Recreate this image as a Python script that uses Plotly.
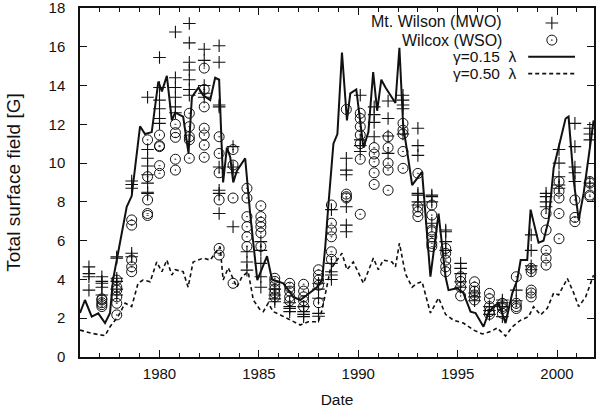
import plotly.graph_objects as go

# Model curves: total surface field for two gamma values
model_years = [1976.0, 1976.25, 1976.59, 1976.92, 1977.26, 1977.51, 1977.66, 1978.1, 1978.35, 1978.6,
               1979.02, 1979.27, 1979.61, 1979.94, 1980.12, 1980.37, 1980.62, 1980.79, 1981.19, 1981.46,
               1981.63, 1981.96, 1982.2, 1982.55, 1982.8, 1983.0, 1983.2, 1983.39, 1983.56, 1983.71,
               1983.89, 1984.31, 1984.56, 1984.92, 1985.41, 1985.66, 1986.23, 1986.73, 1987.08, 1987.42,
               1987.92, 1988.18, 1988.34, 1988.49, 1988.75, 1988.95, 1989.18, 1989.43, 1989.6, 1989.9,
               1990.26, 1990.51, 1990.75, 1990.95, 1991.16, 1991.37, 1991.62, 1991.87, 1992.07, 1992.26,
               1992.46, 1992.71, 1993.03, 1993.21, 1993.63, 1994.04, 1994.39, 1994.54, 1994.98, 1995.29,
               1995.65, 1995.9, 1996.3, 1996.55, 1996.81, 1997.06, 1997.41, 1997.75, 1998.0, 1998.17,
               1998.5, 1998.67, 1999.07, 1999.32, 1999.58, 1999.83, 2000.43, 2000.58, 2000.84, 2001.09,
               2001.34, 2001.59, 2001.84]
gamma_015 = [2.27, 2.94, 2.08, 2.25, 1.75, 2.27, 3.97, 6.4, 7.75, 8.3,
             11.9, 11.5, 11.6, 14.2, 13.7, 14.5, 12.2, 12.6, 12.4, 10.5,
             13.4, 13.9, 13.5, 13.25, 14.4, 14.3, 9.0, 10.8, 10.3, 9.0,
             9.6, 10.25, 7.4, 3.97, 5.2, 4.0, 3.8, 3.1, 2.94, 3.2,
             3.6, 3.97, 5.7, 7.75, 11.0, 11.5, 15.7, 12.2, 13.6, 13.8,
             10.8, 11.6, 14.7, 12.7, 14.3, 13.9, 13.5, 13.1, 15.95, 11.9,
             10.6, 8.87, 9.3, 9.55, 4.14, 7.4, 4.14, 3.45, 3.55, 3.3,
             2.34, 2.27, 1.56, 2.27, 2.6, 2.78, 1.75, 3.3, 3.97, 5.0,
             5.0, 7.6, 5.9, 6.0, 7.07, 9.75, 12.3, 12.4, 9.1, 7.07,
             8.45, 10.2, 12.2]

dash_years = [1976.0, 1976.59, 1977.26, 1977.51, 1977.91, 1978.27, 1978.6, 1978.92, 1979.17, 1979.53,
              1979.86, 1980.12, 1980.37, 1980.62, 1980.79, 1981.19, 1981.44, 1981.69, 1982.2, 1982.55,
              1982.8, 1983.05, 1983.2, 1983.46, 1983.89, 1984.15, 1984.46, 1984.72, 1985.07, 1985.22,
              1985.47, 1985.72, 1986.08, 1986.58, 1987.08, 1987.49, 1987.99, 1988.18, 1988.59, 1989.18,
              1989.43, 1989.75, 1990.26, 1990.76, 1991.01, 1991.26, 1991.7, 1991.87, 1992.07, 1992.37,
              1992.71, 1992.96, 1993.21, 1993.63, 1994.04, 1994.39, 1994.79, 1995.29, 1995.8, 1996.24,
              1996.65, 1996.99, 1997.41, 1997.75, 1998.17, 1998.57, 1998.82, 1999.17, 1999.51, 1999.83,
              2000.08, 2000.52, 2000.84, 2001.09, 2001.44, 2001.84]
gamma_050 = [1.39, 1.22, 1.1, 1.56, 2.08, 2.78, 2.6, 3.8, 3.97, 3.88,
             4.9, 4.4, 5.0, 4.23, 4.5, 4.4, 3.6, 4.9, 5.1, 5.0,
             5.35, 5.7, 3.97, 4.6, 3.6, 4.14, 4.4, 2.94, 2.42, 2.34,
             2.78, 2.34, 2.17, 1.9, 1.65, 1.82, 1.82, 2.42, 4.5, 5.35,
             4.5, 4.9, 3.8, 5.1, 4.5, 5.0, 4.9, 4.65, 5.87, 4.3,
             3.6, 3.8, 3.88, 2.27, 3.05, 2.2, 1.9, 1.75, 1.39, 1.19,
             1.31, 1.5, 1.08, 1.56, 1.9, 2.08, 2.6, 2.17, 2.51, 3.3,
             3.2, 4.05, 3.3, 2.6, 3.1, 4.23]

# Observation epochs and the field values measured at each
obs_epochs = [1976.45, 1977.1, 1977.85, 1978.6, 1979.4, 1980.0, 1980.8, 1981.5, 1982.25, 1983.0,
              1983.7, 1984.4, 1985.1, 1985.8, 1986.55, 1987.25, 1988.0, 1988.65, 1989.4, 1990.1,
              1990.8, 1991.5, 1992.25, 1993.0, 1993.7, 1994.4, 1995.15, 1995.85, 1996.6, 1997.25,
              1997.95, 1998.7, 1999.45, 2000.1, 2000.9, 2001.65]
mwo_values = [
    [4.65, 4.14, 3.45, 4.3],
    [4.14, 3.8, 3.6, 3.2, 3.9],
    [5.17, 5.1, 4.06, 3.9, 3.2, 3.5],
    [9.08, 8.7, 8.9, 5.17, 5.35],
    [13.4, 10.7, 10.25, 9.85, 9.4, 8.97, 8.5, 8.44],
    [15.45, 13.9, 13.25, 12.8, 12.3, 12.05],
    [16.76, 14.4, 13.9, 13.4, 12.9, 12.6],
    [17.2, 16.2, 15.2, 14.8, 14.3, 13.8, 13.5],
    [15.87, 15.3, 14.0, 13.4, 13.6],
    [16.05, 15.2, 13.0, 12.9, 9.8, 8.6, 8.44, 7.4],
    [10.85, 9.8, 9.5, 6.72],
    [5.43, 4.9, 4.48],
    [5.95, 5.5, 4.83, 4.14, 3.6],
    [3.2, 2.85, 3.5, 3.0],
    [2.6, 2.34, 2.5, 2.8],
    [2.34, 2.08, 2.2, 2.6],
    [3.8, 3.03, 2.25, 2.1, 3.5],
    [7.6, 4.83, 4.23, 4.4, 4.0],
    [10.25, 9.64, 9.4, 7.75, 6.8, 6.46],
    [13.5, 11.2, 10.6, 10.9],
    [12.9, 12.5, 12.1, 11.36],
    [13.2, 12.3, 10.5, 11.4],
    [13.5, 13.25, 12.8, 11.5, 13.0],
    [11.8, 10.9, 10.4, 8.44, 8.35, 7.84, 8.0],
    [8.27, 8.35, 8.0, 6.9],
    [6.55, 6.46, 5.95, 5.5],
    [4.83, 4.57, 4.3, 3.88, 3.6],
    [3.1, 2.9, 3.3],
    [2.6, 2.4, 2.2],
    [2.94, 2.8, 2.6, 2.08],
    [3.45, 2.9],
    [6.3, 5.5, 4.5, 4.7],
    [8.44, 8.27, 7.75, 8.0],
    [10.7, 10.0, 9.3, 8.87, 8.7],
    [12.05, 10.85, 9.8, 9.5, 9.05],
    [11.8, 11.2, 8.97, 11.5],
]
wso_values = [
    [],
    [2.94, 2.6, 2.8, 3.0, 2.7],
    [3.97, 3.45, 3.1, 2.77, 2.17, 3.6],
    [7.07, 6.8, 5.0, 4.65, 4.4],
    [11.2, 9.3, 8.1, 7.4, 7.3],
    [11.45, 10.85, 10.9, 9.87, 9.47],
    [12.0, 11.57, 11.33, 10.2, 9.64],
    [12.57, 11.88, 11.36, 11.2, 10.25],
    [14.9, 13.8, 12.9, 11.8, 11.45, 10.93, 10.3],
    [11.36, 10.5, 9.5, 8.1, 5.6, 5.26],
    [10.7, 9.9, 8.2, 3.8],
    [8.7, 8.2, 7.24, 6.72, 6.2, 5.7],
    [7.8, 7.24, 6.95, 6.72, 6.4, 5.7],
    [4.06, 3.9, 3.7, 3.5, 3.3, 3.1],
    [3.8, 3.6, 3.4, 3.1, 2.9],
    [3.75, 3.4, 3.1, 2.9, 2.6],
    [4.5, 4.23, 3.97, 3.7, 2.8],
    [7.84, 6.9, 6.55, 6.2, 5.43, 5.04],
    [12.77, 8.4, 8.27, 8.2],
    [12.57, 12.3, 11.88, 11.45, 11.0, 10.2, 7.36],
    [10.8, 10.47, 10.07, 9.5, 8.9],
    [11.36, 10.8, 10.0, 9.64, 8.6],
    [12.05, 11.7, 11.5, 10.6, 9.73],
    [9.47, 7.75, 7.5, 7.24],
    [7.84, 7.32, 6.55, 6.46, 6.2, 5.86, 5.7],
    [5.6, 5.35, 5.0, 4.65, 4.4],
    [4.14, 3.9, 3.6, 3.15],
    [3.88, 3.6, 3.4, 3.2, 2.94],
    [3.28, 3.0, 2.6, 2.34, 2.2],
    [2.77, 2.5, 2.25, 2.6],
    [4.14, 2.77, 2.6, 2.5],
    [4.57, 4.4, 3.45, 3.1, 3.3],
    [7.4, 6.55, 5.5, 5.1, 4.74],
    [9.05, 8.55, 8.2, 7.4, 6.1],
    [8.1, 6.98, 7.2],
    [9.05, 8.97, 8.35, 8.27],
]

x_ticks = [1980, 1985, 1990, 1995, 2000]
y_ticks = [0, 2, 4, 6, 8, 10, 12, 14, 16, 18]


def flatten(epochs, groups):
    xs, ys = [], []
    for t, vals in zip(epochs, groups):
        for v in vals:
            xs.append(t)
            ys.append(v)
    return xs, ys


mwo_x, mwo_y = flatten(obs_epochs, mwo_values)
wso_x, wso_y = flatten(obs_epochs, wso_values)

FONT = "Liberation Sans, Arial, Helvetica, sans-serif"
BLACK = "#111111"

cross_marker = dict(symbol="cross-thin-open", size=9, color=BLACK, line=dict(color=BLACK, width=1.1))
circle_marker = dict(symbol="circle-open-dot", size=10, color=BLACK, line=dict(color=BLACK, width=1))

fig = go.Figure()

fig.add_trace(go.Scatter(x=mwo_x, y=mwo_y, mode="markers", name="Mt. Wilson (MWO)", marker=cross_marker))
fig.add_trace(go.Scatter(x=wso_x, y=wso_y, mode="markers", name="Wilcox (WSO)", marker=circle_marker))
fig.add_trace(go.Scatter(x=model_years, y=gamma_015, mode="lines", name="γ=0.15 λ",
                         line=dict(color=BLACK, width=2)))
fig.add_trace(go.Scatter(x=dash_years, y=gamma_050, mode="lines", name="γ=0.50 λ",
                         line=dict(color=BLACK, width=1.6, dash="4px,3px")))

# Key in the upper right: text on the left, sample on the right
key_rows = [
    ("Mt. Wilson (MWO)", 0.823, 0.961, 16),
    ("Wilcox (WSO)", 0.823, 0.908, 16),
    ("γ=0.15  λ", 0.852, 0.860, 15.5),
    ("γ=0.50  λ", 0.852, 0.812, 15.5),
]
for text, xr, yr, fs in key_rows:
    fig.add_annotation(x=xr, y=yr, xref="paper", yref="paper", text=text, borderpad=0,
                       showarrow=False, xanchor="right", yanchor="middle",
                       font=dict(family=FONT, size=fs, color=BLACK))

fig.add_trace(go.Scatter(x=[0.918], y=[0.957], xaxis="x2", yaxis="y2", mode="markers",
                         showlegend=False, marker=cross_marker, hoverinfo="skip"))
fig.add_trace(go.Scatter(x=[0.918], y=[0.908], xaxis="x2", yaxis="y2", mode="markers",
                         showlegend=False, marker=circle_marker, hoverinfo="skip"))
fig.add_shape(type="line", xref="paper", yref="paper", x0=0.872, x1=0.963, y0=0.860, y1=0.860,
              line=dict(color=BLACK, width=2))
fig.add_shape(type="line", xref="paper", yref="paper", x0=0.872, x1=0.963, y0=0.812, y1=0.812,
              line=dict(color=BLACK, width=1.6, dash="4px,3px"))

axis_common = dict(
    showline=True, linecolor=BLACK, linewidth=1.5, mirror="allticks",
    ticks="inside", ticklen=7, tickwidth=1.2, tickcolor=BLACK,
    showgrid=False, zeroline=False, automargin=False, ticklabeloverflow="allow",
    tickfont=dict(family=FONT, size=15, color=BLACK),
)

fig.update_layout(
    width=608, height=412,
    margin=dict(l=80, r=14, t=8, b=55, autoexpand=False),
    paper_bgcolor="white", plot_bgcolor="white",
    showlegend=False,
    xaxis=dict(range=[1976, 2001.86], tickvals=x_ticks,
               minor=dict(dtick=1, ticks="inside", ticklen=4, tickcolor=BLACK, tickwidth=1),
               title=dict(text="Date", standoff=13, font=dict(family=FONT, size=15.5, color=BLACK)),
               ticklabelstandoff=2, **axis_common),
    yaxis=dict(range=[0, 18], tickvals=y_ticks,
               title=dict(text="Total surface field [G]", standoff=23,
                          font=dict(family=FONT, size=19, color=BLACK)),
               ticklabelstandoff=10, **axis_common),
    xaxis2=dict(range=[0, 1], overlaying="x", visible=False),
    yaxis2=dict(range=[0, 1], overlaying="y", visible=False),
)

fig.write_html("out.html")
